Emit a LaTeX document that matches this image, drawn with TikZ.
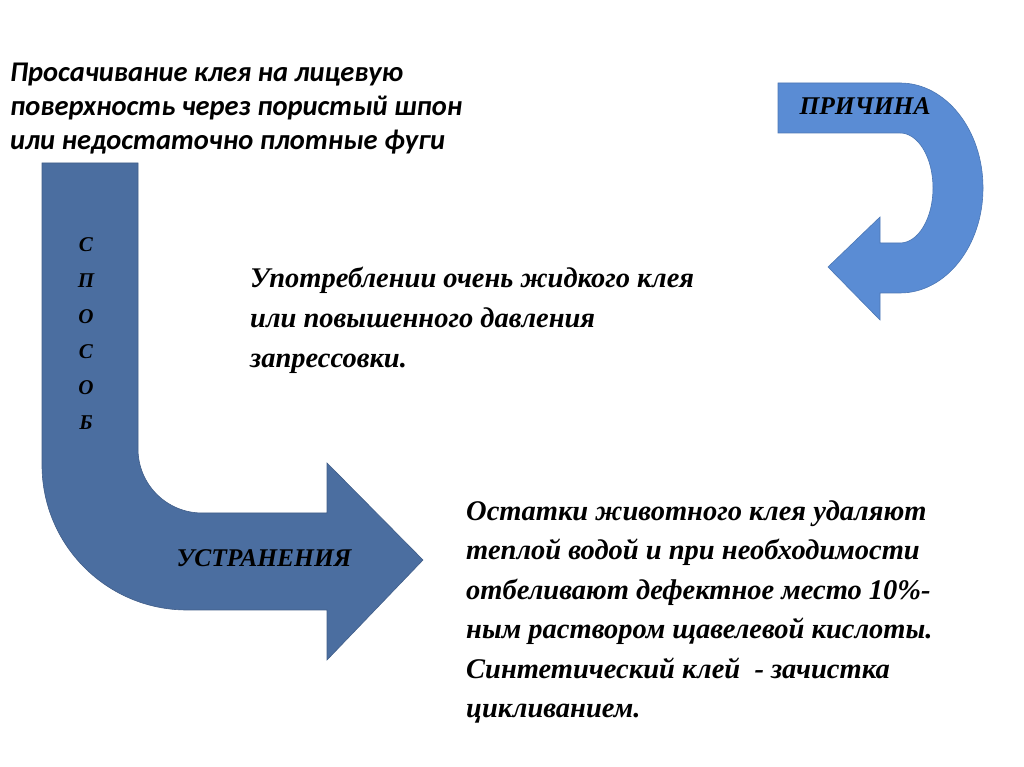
\documentclass[tikz,border=0pt]{standalone}
\usepackage{fontspec}
\setmainfont{Liberation Serif}
\newfontfamily\titlefont{Carlito}
\definecolor{bigblue}{RGB}{75,110,160}
\definecolor{smallblue}{RGB}{90,140,212}
\tikzset{
  bigarrow/.style={fill=bigblue, draw=bigblue!85!black, line width=0.6pt},
  smallarrow/.style={fill=smallblue, draw=smallblue!85!black, line width=0.6pt},
  bodytext/.style={anchor=base west, inner sep=0pt, align=left,
    font=\fontsize{28.5}{39.5}\selectfont\bfseries\itshape},
  labeltext/.style={anchor=base, inner sep=0pt,
    font=\fontsize{25.5}{28}\selectfont\bfseries\itshape}
}
\begin{document}
\begin{tikzpicture}[x=1pt,y=1pt]
\useasboundingbox (0,0) rectangle (1024,767);
% big arrow
\path[bigarrow] (42,604) -- (138,604) -- (138,318)
  arc[start angle=180,end angle=270,radius=64] -- (327,254) -- (327,304)
  -- (423,207) -- (327,107) -- (327,157) -- (187,157)
  arc[start angle=270,end angle=180,radius=145] -- cycle;
% small arrow
\path[smallarrow] (778,684) -- (900,684)
  arc[start angle=90,end angle=-90,x radius=83,y radius=105]
  -- (880,474) -- (880,447) -- (828,500) -- (880,550) -- (880,524) -- (900,524)
  arc[start angle=-90,end angle=90,x radius=33,y radius=55]
  -- (778,634) -- cycle;
% texts
\node[anchor=base west, inner sep=0pt, align=left,
  font=\titlefont\fontsize{28.5}{34}\selectfont\bfseries\itshape] (title) at (10,617)
  {Просачивание клея на лицевую\\поверхность через пористый шпон\\или недостаточно плотные фуги};
\node[bodytext,font=\fontsize{28.5}{40}\selectfont\bfseries\itshape] (cause) at (250,399)
  {Употреблении очень жидкого клея\\или повышенного давления\\запрессовки.};
\node[bodytext] (remedy) at (466,49)
  {Остатки животного клея удаляют\\теплой водой и при необходимости\\отбеливают дефектное место 10\%-\\ным раствором щавелевой кислоты.\\Синтетический клей \ - зачистка\\цикливанием.};
\node[labeltext] (prichina) at (865,652) {ПРИЧИНА};
\node[labeltext] (ustr) at (264,200) {УСТРАНЕНИЯ};
\node[anchor=base, inner sep=0pt, align=center,
  font=\fontsize{21}{35.6}\selectfont\bfseries\itshape] (sposob) at (86,337)
  {С\\П\\О\\С\\О\\Б};
\end{tikzpicture}
\end{document}
